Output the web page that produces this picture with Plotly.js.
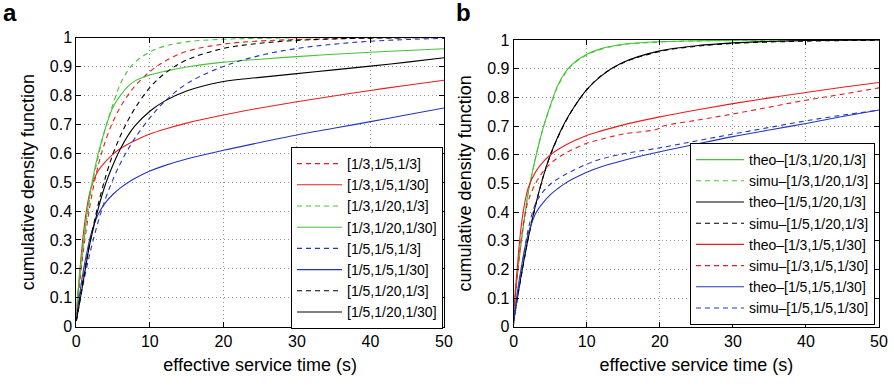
<!DOCTYPE html>
<html>
<head>
<meta charset="utf-8">
<script src="https://cdn.plot.ly/plotly-3.0.1.min.js"></script>
<style>html,body{margin:0;padding:0;background:#fff;}#chart{width:894px;height:387px;}</style>
</head>
<body>
<div id="chart"></div>
<script>
// ---- data ----
const xTime = [0, 0.5, 1, 1.5, 2, 3, 4, 5, 6, 7, 8, 10, 12, 15, 20, 25, 30, 35, 40, 45, 50];

// panel a
const aRedDash   = [0.04, 0.16, 0.27, 0.36, 0.44, 0.56, 0.645, 0.71, 0.76, 0.80, 0.833, 0.882, 0.917, 0.952, 0.977, 0.988, 0.993, 0.996, 0.998, 0.999, 1.0];
const aRedSolid  = [0.04, 0.20, 0.33, 0.42, 0.48, 0.54, 0.572, 0.597, 0.616, 0.631, 0.644, 0.666, 0.683, 0.704, 0.732, 0.756, 0.778, 0.798, 0.817, 0.835, 0.852];
const aGreenDash = [0.05, 0.18, 0.29, 0.385, 0.47, 0.59, 0.69, 0.77, 0.84, 0.885, 0.915, 0.95, 0.97, 0.985, 0.994, 0.997, 0.999, 1.0, 1.0, 1.0, 1.0];
const aGreenSolid= [0.05, 0.19, 0.30, 0.40, 0.48, 0.60, 0.69, 0.76, 0.80, 0.83, 0.85, 0.87, 0.883, 0.898, 0.915, 0.925, 0.934, 0.942, 0.949, 0.955, 0.961];
const aBlueDash  = [0.02, 0.09, 0.155, 0.215, 0.27, 0.365, 0.445, 0.51, 0.565, 0.612, 0.653, 0.722, 0.778, 0.84, 0.90, 0.938, 0.962, 0.977, 0.987, 0.993, 0.997];
const aBlueSolid = [0.02, 0.12, 0.20, 0.265, 0.32, 0.39, 0.43, 0.458, 0.48, 0.498, 0.513, 0.538, 0.557, 0.58, 0.61, 0.637, 0.663, 0.686, 0.709, 0.733, 0.756];
const aBlackDash = [0.02, 0.10, 0.175, 0.245, 0.31, 0.425, 0.52, 0.598, 0.66, 0.712, 0.756, 0.827, 0.875, 0.922, 0.962, 0.98, 0.99, 0.995, 0.998, 0.999, 1.0];
const aBlackSolid= [0.02, 0.09, 0.165, 0.24, 0.305, 0.41, 0.495, 0.56, 0.615, 0.66, 0.695, 0.745, 0.78, 0.815, 0.848, 0.862, 0.875, 0.888, 0.901, 0.915, 0.93];

// panel b
const bGreenTheo = [0.05, 0.18, 0.29, 0.385, 0.47, 0.59, 0.69, 0.77, 0.84, 0.885, 0.915, 0.95, 0.97, 0.985, 0.994, 0.997, 0.999, 1.0, 1.0, 1.0, 1.0];
const bGreenSimu = [0.05, 0.18, 0.29, 0.383, 0.468, 0.59, 0.69, 0.768, 0.836, 0.882, 0.913, 0.948, 0.968, 0.984, 0.993, 0.997, 0.998, 0.999, 1.0, 1.0, 1.0];
const bBlackTheo = [0.02, 0.10, 0.175, 0.245, 0.31, 0.425, 0.52, 0.598, 0.66, 0.712, 0.756, 0.827, 0.875, 0.922, 0.962, 0.98, 0.99, 0.995, 0.998, 0.999, 1.0];
const bBlackSimu = [0.02, 0.10, 0.172, 0.243, 0.31, 0.424, 0.52, 0.597, 0.658, 0.71, 0.755, 0.826, 0.876, 0.921, 0.96, 0.978, 0.988, 0.993, 0.996, 0.998, 0.999];
const bRedTheo   = [0.05, 0.21, 0.345, 0.43, 0.485, 0.54, 0.574, 0.599, 0.617, 0.632, 0.645, 0.667, 0.683, 0.704, 0.732, 0.756, 0.778, 0.798, 0.817, 0.835, 0.852];
const bBlueTheo  = [0.02, 0.12, 0.20, 0.27, 0.325, 0.395, 0.432, 0.46, 0.481, 0.499, 0.514, 0.539, 0.558, 0.58, 0.61, 0.637, 0.663, 0.686, 0.709, 0.733, 0.756];

const xRedSimu   = [0, 0.5, 1, 1.5, 2, 3, 4, 5, 6, 7, 8, 10, 12, 15, 19.5, 20.5, 25, 30, 35, 40, 45, 50];
const bRedSimu   = [0.04, 0.18, 0.30, 0.385, 0.44, 0.50, 0.54, 0.568, 0.588, 0.604, 0.617, 0.64, 0.654, 0.672, 0.688, 0.70, 0.72, 0.742, 0.766, 0.79, 0.811, 0.833];
const xBlueSimu  = xTime;
const bBlueSimu  = [0.01, 0.10, 0.19, 0.27, 0.34, 0.43, 0.47, 0.497, 0.515, 0.53, 0.543, 0.567, 0.585, 0.603, 0.624, 0.648, 0.672, 0.695, 0.718, 0.738, 0.755];

const namesA = ['[1/3,1/5,1/3]', '[1/3,1/5,1/30]', '[1/3,1/20,1/3]', '[1/3,1/20,1/30]',
                '[1/5,1/5,1/3]', '[1/5,1/5,1/30]', '[1/5,1/20,1/3]', '[1/5,1/20,1/30]'];
const namesB = ['theo–[1/3,1/20,1/3]', 'simu–[1/3,1/20,1/3]', 'theo–[1/5,1/20,1/3]', 'simu–[1/5,1/20,1/3]',
                'theo–[1/3,1/5,1/30]', 'simu–[1/3,1/5,1/30]', 'theo–[1/5,1/5,1/30]', 'simu–[1/5,1/5,1/30]'];

// ---- styling ----
const RED = 'rgb(232,30,30)', GREEN = 'rgb(70,195,55)', BLUE = 'rgb(35,55,190)', BLACK = 'rgb(0,0,0)';
const DASH = '5px,4px';
const FONT = 'Liberation Sans, Arial, Helvetica, sans-serif';

function tr(x, y, name, color, dashed, xa, ya, leg) {
  return {
    x: x, y: y, name: name, type: 'scatter', mode: 'lines',
    line: {color: color, width: 1.1, dash: dashed ? DASH : 'solid', shape: 'spline', smoothing: 1},
    xaxis: xa, yaxis: ya, legend: leg, hoverinfo: 'skip'
  };
}

const aColors = [RED, RED, GREEN, GREEN, BLUE, BLUE, BLACK, BLACK];
const aData = [aRedDash, aRedSolid, aGreenDash, aGreenSolid, aBlueDash, aBlueSolid, aBlackDash, aBlackSolid];
const traces = [];
aData.forEach((d, i) => traces.push(tr(xTime, d, namesA[i], aColors[i], i % 2 === 0, 'x', 'y', 'legend')));

const bX = [xTime, xTime, xTime, xTime, xTime, xRedSimu, xTime, xBlueSimu];
const bData = [bGreenTheo, bGreenSimu, bBlackTheo, bBlackSimu, bRedTheo, bRedSimu, bBlueTheo, bBlueSimu];
const bColors = [GREEN, GREEN, BLACK, BLACK, RED, RED, BLUE, BLUE];
bData.forEach((d, i) => traces.push(tr(bX[i], d, namesB[i], bColors[i], i % 2 === 1, 'x2', 'y2', 'legend2')));

const GRID = {showgrid: true, gridcolor: 'rgb(150,150,150)', griddash: '1px,3px', gridwidth: 1, zeroline: false};
function xAxis(domain, anchor) {
  return Object.assign({
    domain: domain, anchor: anchor, range: [0, 50], tickvals: [0, 10, 20, 30, 40, 50],
    ticks: 'inside', ticklen: 5, tickcolor: '#000', showline: true, linecolor: '#000', linewidth: 1, mirror: 'ticks',
    tickfont: {family: FONT, size: 16, color: '#000'},
    title: {text: 'effective service time (s)', font: {family: FONT, size: 18, color: '#000'}, standoff: 9}
  }, GRID);
}
function yAxis(domain, anchor) {
  return Object.assign({
    domain: domain, anchor: anchor, range: [0, 1], tickvals: [0, 0.1, 0.2, 0.3, 0.4, 0.5, 0.6, 0.7, 0.8, 0.9, 1],
    ticktext: ['0', '0.1', '0.2', '0.3', '0.4', '0.5', '0.6', '0.7', '0.8', '0.9', '1'],
    ticks: 'inside', ticklen: 5, tickcolor: '#000', showline: true, linecolor: '#000', linewidth: 1, mirror: 'ticks',
    tickfont: {family: FONT, size: 16, color: '#000'},
    title: {text: 'cumulative density function', font: {family: FONT, size: 18, color: '#000'}, standoff: 10}
  }, GRID);
}

const W = 894, H = 387;
const layout = {
  width: W, height: H, autosize: false,
  margin: {l: 0, r: 0, t: 0, b: 0, pad: 0},
  paper_bgcolor: '#fff', plot_bgcolor: '#fff',
  font: {family: FONT, color: '#000'},
  xaxis: xAxis([76.3 / W, 444 / W], 'y'),
  yaxis: yAxis([(H - 326.7) / H, (H - 37.5) / H], 'x'),
  xaxis2: xAxis([513.7 / W, 879 / W], 'y2'),
  yaxis2: yAxis([(H - 326.7) / H, (H - 40) / H], 'x2'),
  showlegend: true,
  legend: {
    x: 443 / W, y: (H - 329) / H, xanchor: 'right', yanchor: 'bottom', xref: 'paper', yref: 'paper',
    bgcolor: '#fff', bordercolor: '#000', borderwidth: 1, traceorder: 'normal',
    font: {family: FONT, size: 14, color: '#000'}, itemwidth: 45, tracegroupgap: 0
  },
  legend2: {
    x: 875 / W, y: (H - 325) / H, xanchor: 'right', yanchor: 'bottom', xref: 'paper', yref: 'paper',
    bgcolor: '#fff', bordercolor: '#000', borderwidth: 1, traceorder: 'normal',
    font: {family: FONT, size: 14, color: '#000'}, itemwidth: 48, tracegroupgap: 0
  },
  annotations: [
    {text: '<b>a</b>', x: 10 / W, y: (H - 12) / H, xref: 'paper', yref: 'paper', showarrow: false,
     xanchor: 'center', yanchor: 'middle', font: {family: FONT, size: 24, color: '#000'}},
    {text: '<b>b</b>', x: 464 / W, y: (H - 12) / H, xref: 'paper', yref: 'paper', showarrow: false,
     xanchor: 'center', yanchor: 'middle', font: {family: FONT, size: 24, color: '#000'}}
  ]
};

Plotly.newPlot('chart', traces, layout, {staticPlot: true, displayModeBar: false});
</script>
</body>
</html>
